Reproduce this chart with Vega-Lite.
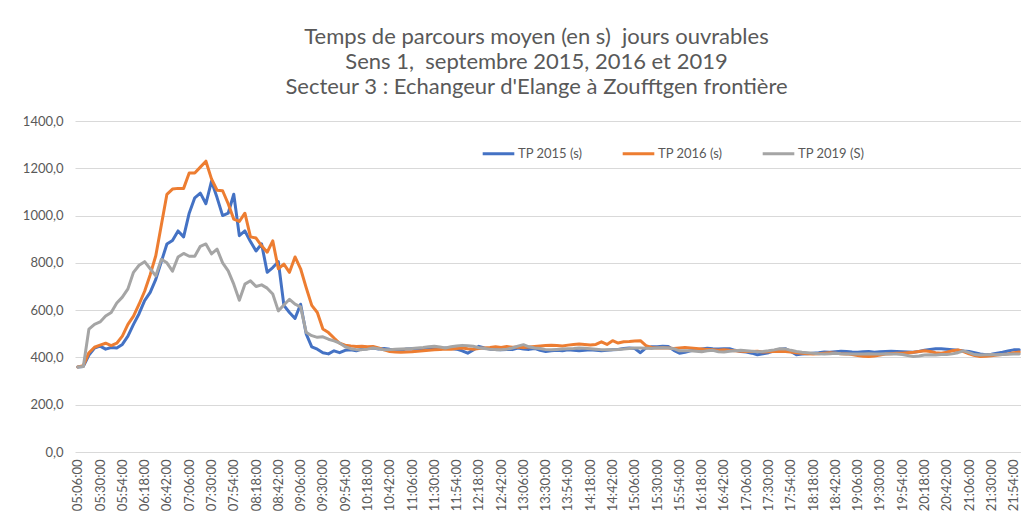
{
  "$schema": "https://vega.github.io/schema/vega-lite/v6.json",
  "autosize": "none",
  "width": 947,
  "height": 331,
  "padding": {"left": 75, "top": 121, "right": 0, "bottom": 75},
  "background": "white",
  "config": {
    "font": "Lato",
    "view": {"stroke": null}
  },
  "title": {
    "text": ["Temps de parcours moyen (en s)\u00a0 jours ouvrables", "Sens 1,\u00a0 septembre 2015, 2016 et 2019", "Secteur 3 : Echangeur d'Elange à Zoufftgen frontière"],
    "font": "Lato",
    "fontSize": 22,
    "fontWeight": "normal",
    "color": "#595959",
    "lineHeight": 25,
    "anchor": "middle",
    "dx": -12,
    "offset": 16
  },
  "data": {
    "values": [
      {"t":"05:06:00","a":360,"b":360,"c":360},
      {"t":"05:12:00","a":362,"b":365,"c":362},
      {"t":"05:18:00","a":410,"b":420,"c":520},
      {"t":"05:24:00","a":440,"b":443,"c":540},
      {"t":"05:30:00","a":448,"b":452,"c":550},
      {"t":"05:36:00","a":435,"b":460,"c":575},
      {"t":"05:42:00","a":442,"b":450,"c":590},
      {"t":"05:48:00","a":440,"b":460,"c":630},
      {"t":"05:54:00","a":455,"b":490,"c":655},
      {"t":"06:00:00","a":490,"b":540,"c":690},
      {"t":"06:06:00","a":540,"b":575,"c":760},
      {"t":"06:12:00","a":585,"b":625,"c":790},
      {"t":"06:18:00","a":640,"b":680,"c":805},
      {"t":"06:24:00","a":675,"b":750,"c":775},
      {"t":"06:30:00","a":730,"b":830,"c":745},
      {"t":"06:36:00","a":805,"b":960,"c":815},
      {"t":"06:42:00","a":880,"b":1090,"c":800},
      {"t":"06:48:00","a":895,"b":1112,"c":765},
      {"t":"06:54:00","a":935,"b":1115,"c":825},
      {"t":"07:00:00","a":910,"b":1115,"c":840},
      {"t":"07:06:00","a":1010,"b":1180,"c":828},
      {"t":"07:12:00","a":1075,"b":1180,"c":828},
      {"t":"07:18:00","a":1095,"b":1205,"c":870},
      {"t":"07:24:00","a":1050,"b":1230,"c":880},
      {"t":"07:30:00","a":1145,"b":1155,"c":838},
      {"t":"07:36:00","a":1076,"b":1107,"c":858},
      {"t":"07:42:00","a":1000,"b":1105,"c":800},
      {"t":"07:48:00","a":1010,"b":1050,"c":766},
      {"t":"07:54:00","a":1090,"b":985,"c":710},
      {"t":"08:00:00","a":915,"b":975,"c":642},
      {"t":"08:06:00","a":935,"b":1010,"c":710},
      {"t":"08:12:00","a":890,"b":910,"c":724},
      {"t":"08:18:00","a":850,"b":905,"c":700},
      {"t":"08:24:00","a":880,"b":872,"c":707},
      {"t":"08:30:00","a":760,"b":845,"c":693},
      {"t":"08:36:00","a":780,"b":893,"c":668},
      {"t":"08:42:00","a":805,"b":775,"c":597},
      {"t":"08:48:00","a":620,"b":795,"c":622},
      {"t":"08:54:00","a":590,"b":760,"c":646},
      {"t":"09:00:00","a":565,"b":825,"c":625},
      {"t":"09:06:00","a":625,"b":775,"c":614},
      {"t":"09:12:00","a":500,"b":695,"c":506},
      {"t":"09:18:00","a":445,"b":620,"c":492},
      {"t":"09:24:00","a":435,"b":590,"c":485},
      {"t":"09:30:00","a":420,"b":520,"c":487},
      {"t":"09:36:00","a":415,"b":505,"c":477},
      {"t":"09:42:00","a":428,"b":482,"c":470},
      {"t":"09:48:00","a":420,"b":460,"c":461},
      {"t":"09:54:00","a":430,"b":452,"c":445},
      {"t":"10:00:00","a":432,"b":448,"c":437},
      {"t":"10:06:00","a":428,"b":446,"c":433},
      {"t":"10:12:00","a":435,"b":447,"c":433},
      {"t":"10:18:00","a":438,"b":445,"c":435},
      {"t":"10:24:00","a":440,"b":446,"c":440},
      {"t":"10:30:00","a":436,"b":440,"c":437},
      {"t":"10:36:00","a":438,"b":432,"c":432},
      {"t":"10:42:00","a":435,"b":425,"c":433},
      {"t":"10:48:00","a":433,"b":423,"c":435},
      {"t":"10:54:00","a":430,"b":422,"c":436},
      {"t":"11:00:00","a":436,"b":423,"c":437},
      {"t":"11:06:00","a":437,"b":424,"c":438},
      {"t":"11:12:00","a":435,"b":426,"c":440},
      {"t":"11:18:00","a":433,"b":428,"c":442},
      {"t":"11:24:00","a":438,"b":430,"c":445},
      {"t":"11:30:00","a":440,"b":432,"c":447},
      {"t":"11:36:00","a":436,"b":434,"c":444},
      {"t":"11:42:00","a":440,"b":436,"c":440},
      {"t":"11:48:00","a":438,"b":435,"c":445},
      {"t":"11:54:00","a":435,"b":438,"c":448},
      {"t":"12:00:00","a":428,"b":440,"c":451},
      {"t":"12:06:00","a":418,"b":437,"c":449},
      {"t":"12:12:00","a":432,"b":435,"c":447},
      {"t":"12:18:00","a":447,"b":438,"c":441},
      {"t":"12:24:00","a":440,"b":440,"c":438},
      {"t":"12:30:00","a":435,"b":442,"c":435},
      {"t":"12:36:00","a":433,"b":445,"c":433},
      {"t":"12:42:00","a":432,"b":442,"c":433},
      {"t":"12:48:00","a":434,"b":446,"c":435},
      {"t":"12:54:00","a":433,"b":443,"c":440},
      {"t":"13:00:00","a":440,"b":444,"c":448},
      {"t":"13:06:00","a":436,"b":442,"c":454},
      {"t":"13:12:00","a":434,"b":444,"c":445},
      {"t":"13:18:00","a":438,"b":446,"c":440},
      {"t":"13:24:00","a":430,"b":448,"c":438},
      {"t":"13:30:00","a":425,"b":450,"c":433},
      {"t":"13:36:00","a":428,"b":452,"c":432},
      {"t":"13:42:00","a":430,"b":450,"c":434},
      {"t":"13:48:00","a":428,"b":448,"c":436},
      {"t":"13:54:00","a":432,"b":452,"c":437},
      {"t":"14:00:00","a":430,"b":455,"c":438},
      {"t":"14:06:00","a":428,"b":457,"c":440},
      {"t":"14:12:00","a":430,"b":455,"c":439},
      {"t":"14:18:00","a":432,"b":453,"c":437},
      {"t":"14:24:00","a":430,"b":455,"c":435},
      {"t":"14:30:00","a":428,"b":466,"c":433},
      {"t":"14:36:00","a":430,"b":455,"c":433},
      {"t":"14:42:00","a":432,"b":471,"c":433},
      {"t":"14:48:00","a":434,"b":461,"c":434},
      {"t":"14:54:00","a":438,"b":466,"c":436},
      {"t":"15:00:00","a":440,"b":467,"c":438},
      {"t":"15:06:00","a":438,"b":469,"c":440},
      {"t":"15:12:00","a":420,"b":471,"c":440},
      {"t":"15:18:00","a":440,"b":450,"c":439},
      {"t":"15:24:00","a":445,"b":442,"c":438},
      {"t":"15:30:00","a":445,"b":440,"c":440},
      {"t":"15:36:00","a":447,"b":441,"c":441},
      {"t":"15:42:00","a":446,"b":440,"c":440},
      {"t":"15:48:00","a":430,"b":438,"c":437},
      {"t":"15:54:00","a":418,"b":440,"c":428},
      {"t":"16:00:00","a":422,"b":442,"c":428},
      {"t":"16:06:00","a":428,"b":440,"c":428},
      {"t":"16:12:00","a":432,"b":438,"c":426},
      {"t":"16:18:00","a":436,"b":436,"c":424},
      {"t":"16:24:00","a":439,"b":434,"c":428},
      {"t":"16:30:00","a":437,"b":432,"c":430},
      {"t":"16:36:00","a":436,"b":430,"c":424},
      {"t":"16:42:00","a":437,"b":433,"c":423},
      {"t":"16:48:00","a":437,"b":430,"c":426},
      {"t":"16:54:00","a":430,"b":428,"c":428},
      {"t":"17:00:00","a":425,"b":426,"c":430},
      {"t":"17:06:00","a":423,"b":425,"c":428},
      {"t":"17:12:00","a":418,"b":425,"c":426},
      {"t":"17:18:00","a":411,"b":426,"c":424},
      {"t":"17:24:00","a":415,"b":423,"c":425},
      {"t":"17:30:00","a":420,"b":424,"c":428},
      {"t":"17:36:00","a":428,"b":425,"c":432},
      {"t":"17:42:00","a":435,"b":426,"c":437},
      {"t":"17:48:00","a":437,"b":425,"c":436},
      {"t":"17:54:00","a":425,"b":423,"c":430},
      {"t":"18:00:00","a":411,"b":420,"c":425},
      {"t":"18:06:00","a":414,"b":418,"c":422},
      {"t":"18:12:00","a":416,"b":416,"c":420},
      {"t":"18:18:00","a":418,"b":414,"c":418},
      {"t":"18:24:00","a":420,"b":416,"c":416},
      {"t":"18:30:00","a":423,"b":418,"c":415},
      {"t":"18:36:00","a":422,"b":420,"c":416},
      {"t":"18:42:00","a":424,"b":418,"c":418},
      {"t":"18:48:00","a":426,"b":416,"c":416},
      {"t":"18:54:00","a":425,"b":415,"c":415},
      {"t":"19:00:00","a":423,"b":412,"c":414},
      {"t":"19:06:00","a":422,"b":408,"c":414},
      {"t":"19:12:00","a":424,"b":405,"c":415},
      {"t":"19:18:00","a":425,"b":404,"c":416},
      {"t":"19:24:00","a":422,"b":406,"c":415},
      {"t":"19:30:00","a":424,"b":410,"c":415},
      {"t":"19:36:00","a":425,"b":414,"c":416},
      {"t":"19:42:00","a":426,"b":416,"c":415},
      {"t":"19:48:00","a":425,"b":418,"c":414},
      {"t":"19:54:00","a":424,"b":418,"c":412},
      {"t":"20:00:00","a":423,"b":420,"c":408},
      {"t":"20:06:00","a":422,"b":422,"c":404},
      {"t":"20:12:00","a":425,"b":425,"c":406},
      {"t":"20:18:00","a":430,"b":428,"c":410},
      {"t":"20:24:00","a":434,"b":425,"c":411},
      {"t":"20:30:00","a":437,"b":420,"c":410},
      {"t":"20:36:00","a":437,"b":418,"c":412},
      {"t":"20:42:00","a":435,"b":422,"c":412},
      {"t":"20:48:00","a":433,"b":428,"c":415},
      {"t":"20:54:00","a":430,"b":432,"c":420},
      {"t":"21:00:00","a":427,"b":425,"c":428},
      {"t":"21:06:00","a":425,"b":415,"c":420},
      {"t":"21:12:00","a":420,"b":408,"c":412},
      {"t":"21:18:00","a":415,"b":404,"c":410},
      {"t":"21:24:00","a":411,"b":405,"c":411},
      {"t":"21:30:00","a":414,"b":407,"c":412},
      {"t":"21:36:00","a":418,"b":410,"c":411},
      {"t":"21:42:00","a":422,"b":412,"c":412},
      {"t":"21:48:00","a":427,"b":415,"c":413},
      {"t":"21:54:00","a":432,"b":420,"c":414},
      {"t":"22:00:00","a":432,"b":423,"c":415}
    ]
  },
  "transform": [
    {"fold": ["a", "b", "c"], "as": ["serie", "v"]}
  ],
  "mark": {"type": "line", "strokeWidth": 3, "strokeJoin": "round", "strokeCap": "round"},
  "encoding": {
    "x": {
      "field": "t",
      "type": "ordinal",
      "scale": {"type": "point", "padding": 0.5},
      "axis": {
        "title": null,
        "values": ["05:06:00","05:30:00","05:54:00","06:18:00","06:42:00","07:06:00","07:30:00","07:54:00","08:18:00","08:42:00","09:06:00","09:30:00","09:54:00","10:18:00","10:42:00","11:06:00","11:30:00","11:54:00","12:18:00","12:42:00","13:06:00","13:30:00","13:54:00","14:18:00","14:42:00","15:06:00","15:30:00","15:54:00","16:18:00","16:42:00","17:06:00","17:30:00","17:54:00","18:18:00","18:42:00","19:06:00","19:30:00","19:54:00","20:18:00","20:42:00","21:06:00","21:30:00","21:54:00"],
        "labelAngle": -90,
        "labelFontSize": 13,
        "labelColor": "#595959",
        "labelPadding": 7,
        "ticks": false,
        "domain": false,
        "grid": false
      }
    },
    "y": {
      "field": "v",
      "type": "quantitative",
      "scale": {"domain": [0, 1400]},
      "axis": {
        "title": null,
        "values": [0, 200, 400, 600, 800, 1000, 1200, 1400],
        "labelExpr": "replace(format(datum.value, '.1f'), '.', ',')",
        "labelFontSize": 13,
        "labelColor": "#595959",
        "labelPadding": 12,
        "ticks": false,
        "domain": false,
        "gridColor": "#d9d9d9",
        "gridWidth": 1
      }
    },
    "color": {
      "field": "serie",
      "type": "nominal",
      "scale": {"domain": ["a", "b", "c"], "range": ["#4472C4", "#ED7D31", "#A5A5A5"]},
      "legend": {
        "title": null,
        "orient": "none",
        "direction": "horizontal",
        "legendX": 406,
        "legendY": 15,
        "symbolType": "stroke",
        "symbolSize": 1000,
        "symbolStrokeWidth": 3,
        "labelExpr": "datum.label == 'a' ? 'TP 2015 (s)' : datum.label == 'b' ? 'TP 2016 (s)' : 'TP 2019 (S)'",
        "labelFontSize": 13,
        "labelColor": "#595959",
        "labelOffset": 2,
        "columnPadding": 33
      }
    }
  }
}
